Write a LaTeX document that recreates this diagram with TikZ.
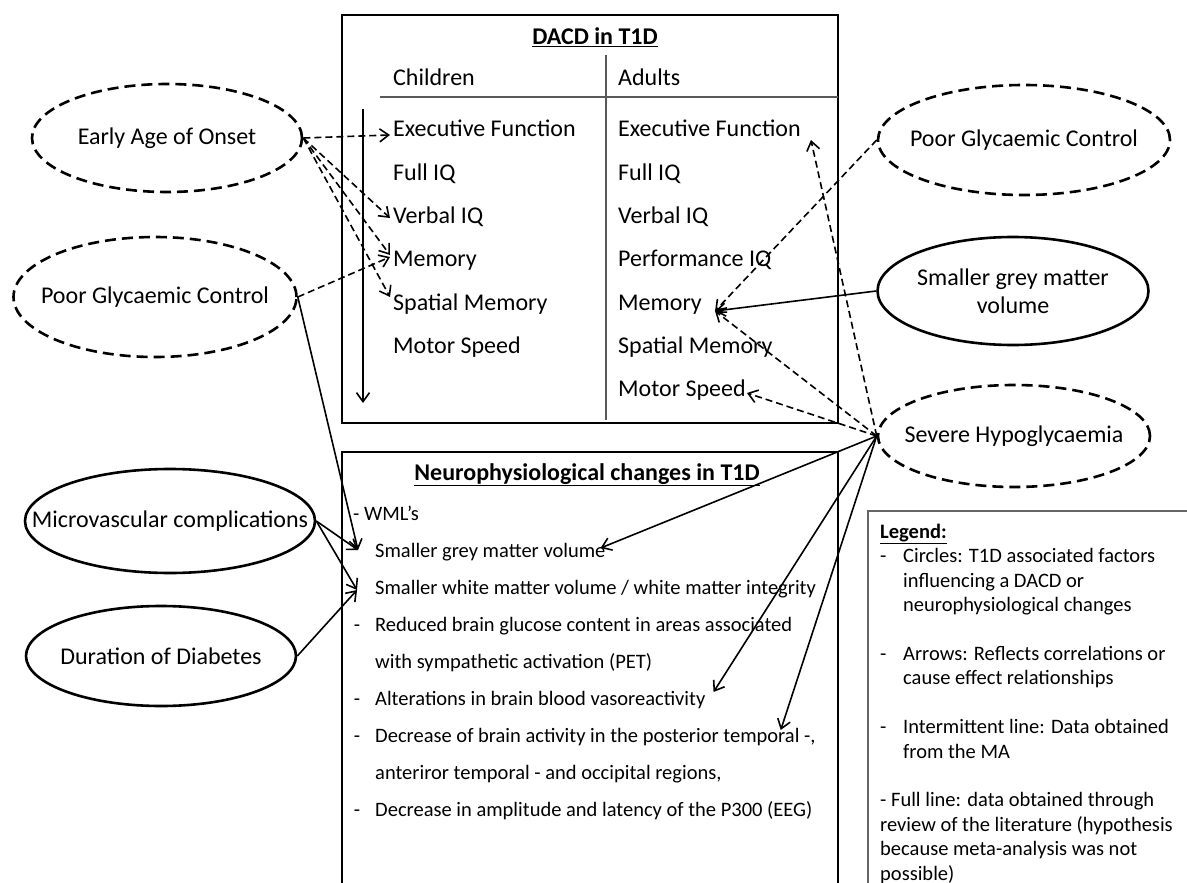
\documentclass[tikz,border=0pt]{standalone}
\usepackage{fontspec}
\setmainfont{Carlito}
\usetikzlibrary{shapes.geometric, arrows.meta}

\begin{document}
\begin{tikzpicture}[x=1pt, y=-1pt]

\tikzset{factor/.style = {shape=ellipse, draw, line width=2.6pt, inner sep=0pt, font=\fontsize{24}{28}\selectfont, align=center}}
\tikzset{mafactor/.style = {factor, dash pattern=on 11pt off 6pt}}
\tikzset{item/.style = {anchor=base west, inner sep=0pt, font=\fontsize{24}{28}\selectfont}}
\tikzset{heading/.style = {anchor=base, inner sep=0pt, font=\fontsize{24}{28}\selectfont\bfseries}}
\tikzset{change/.style = {anchor=base west, inner sep=0pt, font=\fontsize{20.5}{24}\selectfont}}
\tikzset{edge/.style = {-{Straight Barb[length=9pt, width=13pt]}, line width=1.6pt}}
\tikzset{maedge/.style = {edge, dash pattern=on 7pt off 4pt}}

\useasboundingbox (0,0) rectangle (1187,883);
\fill[white] (0,0) rectangle (1187,883);

%boxes
\draw[line width=2.5pt] (342,15) rectangle (838,423);
\draw[line width=2.5pt] (342,452) rectangle (838,884);
\draw[line width=1.2pt, gray!80!black] (868,511) rectangle (1195,895);
\draw[line width=1.3pt, gray!70!black] (606,55) -- (606,420);
\draw[line width=1.3pt, gray!70!black] (380,97) -- (838,97);

%DACD table
\node[heading] (dacd) at (595,45) {\underline{DACD in T1D}};
\node[item] (child) at (393,85) {Children};
\node[item] (adult) at (618,85) {Adults};
\node[item] (cexec) at (393,136) {Executive Function};
\node[item] (cfiq) at (393,180) {Full IQ};
\node[item] (cviq) at (393,223) {Verbal IQ};
\node[item] (cmem) at (393,266) {Memory};
\node[item] (cspat) at (393,310) {Spatial Memory};
\node[item] (cmot) at (393,353) {Motor Speed};
\node[item] (aexec) at (618,136) {Executive Function};
\node[item] (afiq) at (618,180) {Full IQ};
\node[item] (aviq) at (618,223) {Verbal IQ};
\node[item] (apiq) at (618,266) {Performance IQ};
\node[item] (amem) at (618,310) {Memory};
\node[item] (aspat) at (618,353) {Spatial Memory};
\node[item] (amot) at (618,396) {Motor Speed};
\coordinate (agetop) at (363,109);
\coordinate (agebot) at (363,403);
\draw[edge] (agetop) -- (agebot);

%neurophysiological changes
\node[heading] (neuro) at (587,480) {\underline{Neurophysiological changes in T1D}};
\node[change] (wml) at (353,520) {- WML’s};
\node[change] (sgrey) at (375,557) {Smaller grey matter volume};
\node[change] (swhite) at (375,594) {Smaller white matter volume / white matter integrity};
\node[change] (glu) at (375,631) {\llap{-\hspace{15pt}}Reduced brain glucose content in areas associated};
\node[change] (glu2) at (375,668) {with sympathetic activation (PET)};
\node[change] (vaso) at (375,705) {\llap{-\hspace{15pt}}Alterations in brain blood vasoreactivity};
\node[change] (act) at (375,742) {\llap{-\hspace{15pt}}Decrease of brain activity in the posterior temporal -,};
\node[change] (act2) at (375,779) {anteriror temporal - and occipital regions,};
\node[change] (eeg) at (375,816) {\llap{-\hspace{15pt}}Decrease in amplitude and latency of the P300 (EEG)};

%legend
\node[anchor=north west, inner sep=0pt, align=left, font=\fontsize{20.5}{24.4}\selectfont] (legend) at (880,524)
  {\underline{\textbf{Legend:}}\\
   \makebox[23pt][l]{-}Circles: T1D associated factors\\
   \hspace*{23pt}influencing a DACD or\\
   \hspace*{23pt}neurophysiological changes\\[24.4pt]
   \makebox[23pt][l]{-}Arrows: Reflects correlations or\\
   \hspace*{23pt}cause effect relationships\\[24.4pt]
   \makebox[23pt][l]{-}Intermittent line: Data obtained\\
   \hspace*{23pt}from the MA\\[24.4pt]
   - Full line: data obtained through\\
   review of the literature (hypothesis\\
   because meta-analysis was not\\
   possible)};

%factors
\node[mafactor, minimum width=270pt, minimum height=108pt] (onset) at (167,138) {\makebox[0pt]{Early Age of Onset}};
\node[mafactor, minimum width=283pt, minimum height=120pt] (glycl) at (155,297) {\makebox[0pt]{Poor Glycaemic Control}};
\node[factor, minimum width=290pt, minimum height=104pt] (micro) at (170,521) {\makebox[0pt]{Microvascular complications}};
\node[factor, minimum width=270pt, minimum height=100pt] (durat) at (161,656) {\makebox[0pt]{Duration of Diabetes}};
\node[mafactor, minimum width=292pt, minimum height=110pt] (glycr) at (1024,140) {\makebox[0pt]{Poor Glycaemic Control}};
\node[factor, minimum width=270pt, minimum height=108pt] (grey) at (1013,291) {Smaller grey matter\\volume};
\node[mafactor, minimum width=272pt, minimum height=102pt] (hypo) at (1014,436) {\makebox[0pt]{Severe Hypoglycaemia}};

%edges left
\draw[maedge] (onset.east) -- ([xshift=-3pt, yshift=1pt]cexec.base west);
\draw[maedge] (onset.east) -- ([xshift=-3pt, yshift=5pt]cviq.base west);
\draw[maedge] (onset.east) -- ([xshift=-3pt, yshift=11pt]cmem.base west);
\draw[maedge] (onset.east) -- ([xshift=-3pt, yshift=13pt]cspat.base west);
\draw[maedge] (glycl.east) -- ([xshift=-3pt, yshift=9pt]cmem.base west);
\draw[edge] (glycl.east) -- ([xshift=-17pt, yshift=7pt]sgrey.base west);
\draw[edge] (micro.east) -- ([xshift=-17pt, yshift=7pt]sgrey.base west);
\draw[edge] (micro.east) -- ([xshift=-18pt, yshift=4pt]swhite.base west);
\draw[edge] (durat.east) -- ([xshift=-18pt, yshift=4pt]swhite.base west);
%edges right
\draw[maedge] (glycr.west) -- ([xshift=13pt, yshift=-1pt]amem.base east);
\draw[edge] (grey.west) -- ([xshift=13pt, yshift=-1pt]amem.base east);
\draw[maedge] (hypo.west) -- ([xshift=13pt, yshift=-1pt]amem.base east);
\draw[maedge] (hypo.west) -- ([xshift=10pt, yshift=-4pt]aexec.base east);
\draw[maedge] (hypo.west) -- ([xshift=1pt, yshift=3pt]amot.base east);
\draw[edge] (hypo.west) -- ([xshift=-5pt, yshift=9pt]sgrey.base east);
\draw[edge] (hypo.west) -- ([xshift=8pt, yshift=13pt]vaso.base east);
\draw[edge] (hypo.west) -- ([xshift=-35pt, yshift=12pt]act.base east);

\end{tikzpicture}
\end{document}
